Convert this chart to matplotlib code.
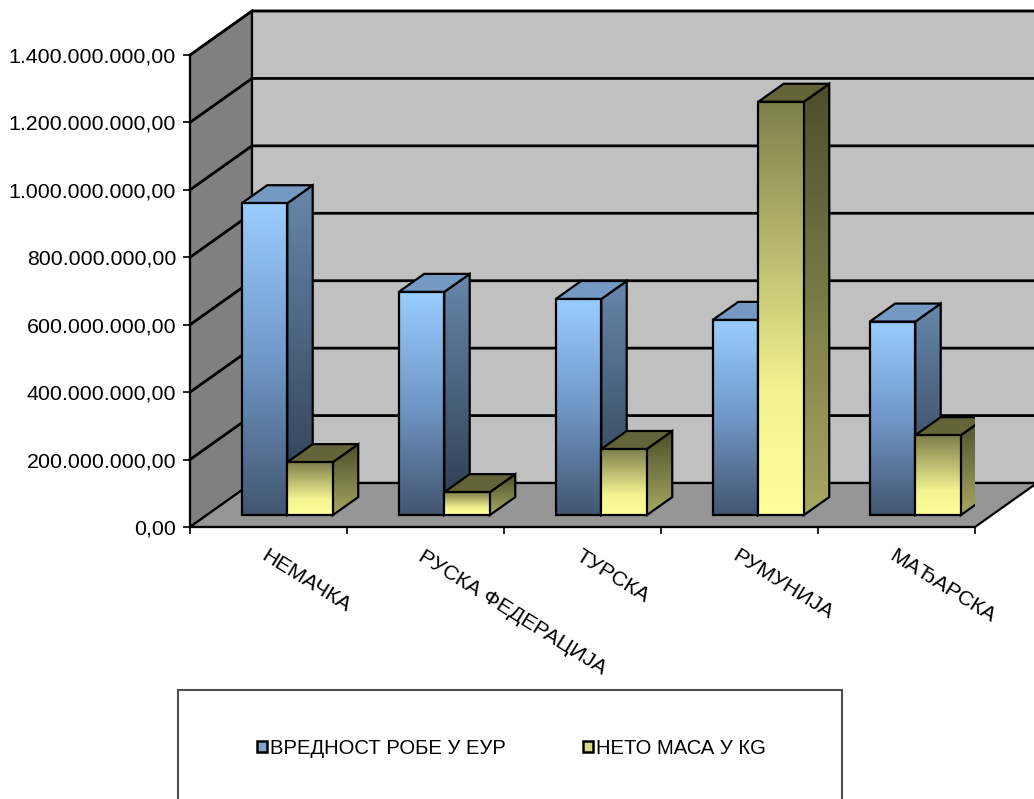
import matplotlib
matplotlib.use("Agg")
import matplotlib.pyplot as plt
from matplotlib.patches import Polygon, Rectangle, Patch
from matplotlib.colors import LinearSegmentedColormap
from matplotlib.ticker import FuncFormatter
import numpy as np

plt.rcParams['font.family'] = ['Liberation Sans', 'DejaVu Sans']

# data
countries = ["НЕМАЧКА", "РУСКА ФЕДЕРАЦИЈА", "ТУРСКА", "РУМУНИЈА", "МАЂАРСКА"]
value_eur = [925e6, 662e6, 641e6, 579e6, 574e6]
mass_kg = [157e6, 68e6, 196e6, 1226e6, 237e6]
series_names = ["ВРЕДНОСТ РОБЕ У ЕУР", "НЕТО МАСА У КG"]
y_ticks = [0, 200e6, 400e6, 600e6, 800e6, 1000e6, 1200e6, 1400e6]

# fake 3d projection (oblique, like excel)
DEPTH_X = 0.395
DEPTH_Y = 130.5e6
F0, F1 = 0.27, 0.68
BAR_W = 0.29
GROUP_C = 0.513
FS = 15.4

blue_front = LinearSegmentedColormap.from_list("bf", [(0, "#425670"), (0.5, "#7098C8"), (1, "#9ACDFF")])
blue_side = LinearSegmentedColormap.from_list("bs", ["#2C3B4E", "#6787AB"])
blue_top = "#7499C3"
yel_front = LinearSegmentedColormap.from_list("yf", [(0, "#FFFF99"), (0.3, "#F3F391"), (1, "#7E7E4B")])
yel_side = LinearSegmentedColormap.from_list("ys", ["#A8A862", "#4D4D2C"])
yel_top = "#646438"


def proj(x, y, f):
    return (x + f * DEPTH_X, y + f * DEPTH_Y)


def shade(ax, verts, fill, z):
    poly = Polygon(verts, closed=True, fc='none', ec='none', zorder=z)
    ax.add_patch(poly)
    if isinstance(fill, str):
        poly.set_facecolor(fill)
    else:
        xs = [v[0] for v in verts]
        ys = [v[1] for v in verts]
        grad = np.linspace(0, 1, 256).reshape(-1, 1)
        im = ax.imshow(grad, cmap=fill, extent=[min(xs), max(xs), min(ys), max(ys)],
                       origin='lower', aspect='auto', interpolation='bilinear', zorder=z)
        im.set_clip_path(poly)
    ax.add_patch(Polygon(verts, closed=True, fc='none', ec='black', lw=1.6,
                         zorder=z + 0.01, joinstyle='miter'))


def draw_bar(ax, x0, h, front, side, top, z):
    x1 = x0 + BAR_W
    side_v = [proj(x1, 0, F0), proj(x1, 0, F1), proj(x1, h, F1), proj(x1, h, F0)]
    top_v = [proj(x0, h, F0), proj(x1, h, F0), proj(x1, h, F1), proj(x0, h, F1)]
    front_v = [proj(x0, 0, F0), proj(x1, 0, F0), proj(x1, h, F0), proj(x0, h, F0)]
    shade(ax, side_v, side, z)
    shade(ax, top_v, top, z + 0.1)
    shade(ax, front_v, front, z + 0.2)


fig = plt.figure(figsize=(10.34, 7.99), dpi=100)
ax = fig.add_axes([190 / 1034, (799 - 527) / 799, 785 / 1034, 472 / 799])
ax.patch.set_visible(False)

n = len(countries)
ymax = y_ticks[-1]

# walls and floor
side_wall = [(0, 0), (0, ymax), proj(0, ymax, 1), proj(0, 0, 1)]
back_wall = [proj(0, 0, 1), proj(0, ymax, 1), proj(n, ymax, 1), proj(n, 0, 1)]
floor = [(0, 0), (n, 0), proj(n, 0, 1), proj(0, 0, 1)]
ax.add_patch(Polygon(side_wall, fc="#808080", ec="black", lw=1.6, zorder=0, clip_on=False))
ax.add_patch(Polygon(back_wall, fc="#C0C0C0", ec="black", lw=1.6, zorder=0, clip_on=False))
ax.add_patch(Polygon(floor, fc="#969696", ec="black", lw=1.6, zorder=1, clip_on=False))

# gridlines on the walls
for v in y_ticks[1:]:
    p0 = (0, v)
    p1 = proj(0, v, 1)
    p2 = proj(n, v, 1)
    ax.plot([p0[0], p1[0], p2[0]], [p0[1], p1[1], p2[1]], color="black", lw=2,
            zorder=1.5, clip_on=False, solid_joinstyle='miter')

# bars
for i in range(n):
    left = i + GROUP_C - BAR_W
    draw_bar(ax, left, value_eur[i], blue_front, blue_side, blue_top, 3 + i)
    draw_bar(ax, left + BAR_W, mass_kg[i], yel_front, yel_side, yel_top, 3.5 + i)

ax.set_xlim(0, n)
ax.set_ylim(0, ymax)

for s in ["top", "right"]:
    ax.spines[s].set_visible(False)
for s in ["left", "bottom"]:
    ax.spines[s].set_linewidth(1.5)
    ax.spines[s].set_zorder(2)

ax.set_yticks(y_ticks)
ax.yaxis.set_major_formatter(FuncFormatter(
    lambda v, p: f"{v:,.2f}".replace(",", "X").replace(".", ",").replace("X", ".")))
ax.tick_params(axis='y', length=5, width=1.2, pad=5, labelsize=FS)

ax.set_xticks(np.arange(n) + 0.5)
ax.set_xticklabels(countries, rotation=-32, ha='left', va='top', rotation_mode='anchor')
ax.set_xticks(np.arange(n + 1), minor=True)
ax.tick_params(axis='x', which='major', length=0, pad=14, labelsize=FS)
ax.tick_params(axis='x', which='minor', length=5, width=1.2)

# legend box (runs off the bottom of the picture)
fig.patches.append(Rectangle((178 / 1034, -0.05), 664 / 1034, 0.05 + (799 - 690) / 799,
                             transform=fig.transFigure, fc="white", ec="#505050", lw=1.5))
handles = [Patch(fc="#7FA6D0", ec="black", lw=1.8), Patch(fc="#D8D88A", ec="black", lw=1.8)]
fig.legend(handles, series_names, loc='center left', bbox_to_anchor=(257 / 1034, 1 - 748 / 799),
           frameon=False, ncol=2, fontsize=14.6, handlelength=0.5, handleheight=0.5,
           handletextpad=0.15, columnspacing=3.8, borderpad=0, borderaxespad=0)

fig.savefig("out.png", dpi=100)
